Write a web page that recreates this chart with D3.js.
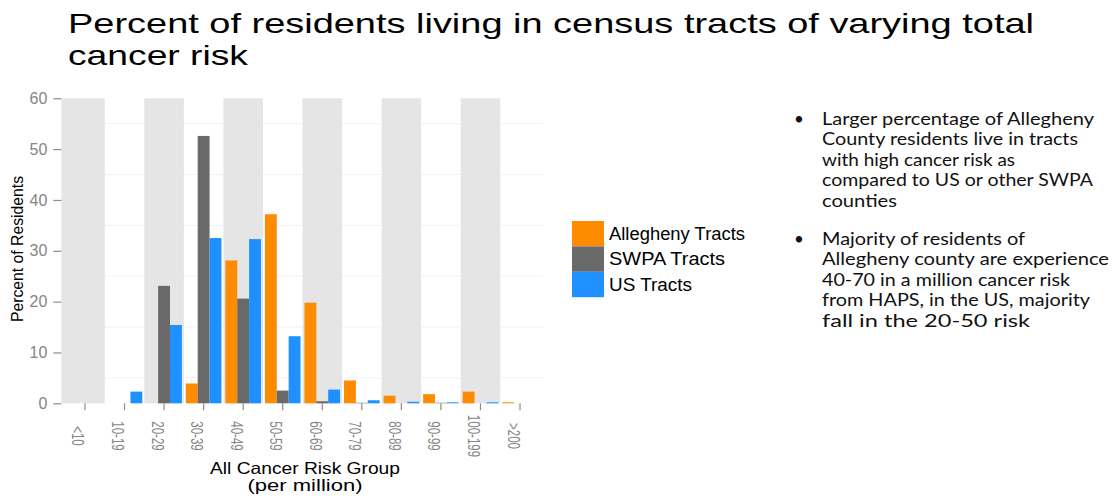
<!DOCTYPE html>
<html><head><meta charset="utf-8">
<script src="https://cdn.jsdelivr.net/npm/d3@7"></script>
<style>body{margin:0;background:#fff;} svg{display:block;}</style>
</head><body>
<svg id="c" width="1112" height="496"></svg>
<script>
// ---------- data ----------
const categories = ["<10","10-19","20-29","30-39","40-49","50-59","60-69","70-79","80-89","90-99","100-199",">200"];
const allegheny = [0, 0, 0, 3.9, 28.1, 37.2, 19.8, 4.5, 1.5, 1.8, 2.3, 0.2];
const swpa      = [0, 0, 23.1, 52.6, 20.6, 2.5, 0.4, 0.1, 0, 0.1, 0, 0];
const us        = [0, 2.3, 15.4, 32.5, 32.3, 13.2, 2.7, 0.6, 0.3, 0.2, 0.2, 0];
const seriesNames = ["Allegheny Tracts", "SWPA Tracts", "US Tracts"];
const seriesValues = [allegheny, swpa, us];
const seriesColors = ["#FF8C00", "#696969", "#1E90FF"];
const yTicks = [0, 10, 20, 30, 40, 50, 60];
const yMinorGrid = [5, 15, 25, 35, 45, 55];
const shadedCategories = ["<10", "20-29", "40-49", "60-69", "80-89", "100-199"];
const titleLines = ["Percent of residents living in census tracts of varying total", "cancer risk"];
const yLabel = "Percent of Residents";
const xLabelLines = ["All Cancer Risk Group", "(per million)"];
const bullets = [
  ["Larger percentage of Allegheny", "County residents live in tracts", "with high cancer risk as", "compared to US or other SWPA", "counties"],
  ["Majority of residents of", "Allegheny county are experience", "40-70 in a million cancer risk", "from HAPS, in the US, majority", "fall in the 20-50 risk"]
];
const bulletWidths = [[272, 256, 193, 271, 75], [203, 287, 248, 268, 208]];

// ---------- layout ----------
const svg = d3.select("#c");
const panel = {left: 61.3, right: 543.7, top: 98.3, bottom: 403.3};
const x = d3.scaleBand().domain(categories).range([65.2, 539.8]).padding(0);
const bw = x.bandwidth();
const xs = d3.scaleBand().domain(seriesNames).range([0.05 * bw, 0.95 * bw]).padding(0);
const y = d3.scaleLinear().domain([0, 60]).range([panel.bottom, panel.top]);

const rows = [];
categories.forEach((c, i) => seriesNames.forEach((s, j) => rows.push({c, s, v: seriesValues[j][i], col: seriesColors[j]})));

// minor grid
svg.append("g").selectAll("line").data(yMinorGrid).join("line")
  .attr("x1", panel.left).attr("x2", panel.right)
  .attr("y1", d => y(d)).attr("y2", d => y(d))
  .attr("stroke", "#f2f2f2").attr("stroke-width", 1);

// shaded bands
svg.append("g").selectAll("rect").data(shadedCategories).join("rect")
  .attr("x", (d, i) => i === 0 ? panel.left : x(d))
  .attr("width", (d, i) => i === 0 ? x(d) + bw - panel.left : bw)
  .attr("y", y(60)).attr("height", y(0) - y(60))
  .attr("fill", "#e5e5e5");

// bars
svg.append("g").selectAll("rect").data(rows).join("rect")
  .attr("x", d => x(d.c) + xs(d.s))
  .attr("width", xs.bandwidth())
  .attr("y", d => y(d.v))
  .attr("height", d => y(0) - y(d.v))
  .attr("fill", d => d.col);

// y axis
const yAxis = svg.append("g").attr("transform", `translate(${panel.left},0)`)
  .call(d3.axisLeft(y).tickValues(yTicks).tickSize(8).tickPadding(6));
yAxis.select(".domain").remove();
yAxis.selectAll("line").attr("stroke", "#8c8c8c").attr("stroke-width", 1.2);
yAxis.selectAll("text").attr("fill", "#858585").attr("font-family", "Liberation Sans, Arial, sans-serif").attr("font-size", 16);

// x axis
const xAxis = svg.append("g").attr("transform", `translate(0,${panel.bottom})`)
  .call(d3.axisBottom(x).tickSize(7));
xAxis.select(".domain").remove();
xAxis.selectAll("line").attr("stroke", "#8c8c8c").attr("stroke-width", 1.2);
xAxis.selectAll("text")
  .attr("y", 0).attr("dy", 0)
  .attr("text-anchor", "middle")
  .attr("transform", "translate(-12.5,32.7) rotate(90) scale(0.68,1)")
  .attr("fill", "#858585").attr("font-family", "Liberation Sans, Arial, sans-serif").attr("font-size", 17);

// axis titles
svg.append("text").attr("transform", "translate(22.5,249) rotate(-90)")
  .attr("text-anchor", "middle").attr("font-family", "Liberation Sans, Arial, sans-serif")
  .attr("font-size", 16).attr("fill", "#000")
  .attr("textLength", 146).attr("lengthAdjust", "spacingAndGlyphs").text(yLabel);
const xlPos = [{y: 474.3, w: 190}, {y: 490.5, w: 115}];
xLabelLines.forEach((t, i) => {
  svg.append("text").attr("x", 305).attr("y", xlPos[i].y)
    .attr("text-anchor", "middle").attr("font-family", "Liberation Sans, Arial, sans-serif")
    .attr("font-size", 16.5).attr("fill", "#000")
    .attr("textLength", xlPos[i].w).attr("lengthAdjust", "spacingAndGlyphs").text(t);
});

// title
const tPos = [{y: 33, w: 966}, {y: 65, w: 180}];
titleLines.forEach((t, i) => {
  svg.append("text").attr("x", 68).attr("y", tPos[i].y)
    .attr("font-family", "Liberation Sans, Arial, sans-serif").attr("font-size", 28).attr("fill", "#000")
    .attr("textLength", tPos[i].w).attr("lengthAdjust", "spacingAndGlyphs").text(t);
});

// legend
const legW = [136, 116, 83];
const leg = svg.append("g");
seriesNames.forEach((s, i) => {
  leg.append("rect").attr("x", 572).attr("y", 221 + i * 25.4).attr("width", 32).attr("height", 25.4).attr("fill", seriesColors[i]);
  leg.append("text").attr("x", 609).attr("y", 221 + i * 25.4 + 19)
    .attr("font-family", "Liberation Sans, Arial, sans-serif").attr("font-size", 17.5).attr("fill", "#000")
    .attr("textLength", legW[i]).attr("lengthAdjust", "spacingAndGlyphs").text(s);
});

// bullets
const bStart = [124.5, 244.5];
const lineH = 20.6;
bullets.forEach((lines, b) => {
  svg.append("text").attr("x", 794).attr("y", bStart[b])
    .attr("font-family", "Lato, sans-serif").attr("font-size", 17).attr("fill", "#111").text("•");
  lines.forEach((t, i) => {
    svg.append("text").attr("x", 822).attr("y", bStart[b] + i * lineH)
      .attr("font-family", "Lato, sans-serif").attr("font-size", 17).attr("fill", "#111")
      .attr("textLength", bulletWidths[b][i]).attr("lengthAdjust", "spacingAndGlyphs").text(t);
  });
});
</script>
</body></html>
